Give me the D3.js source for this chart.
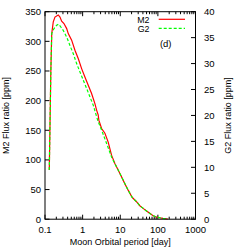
<!DOCTYPE html>
<html><head><meta charset="utf-8">
<script src="https://cdn.jsdelivr.net/npm/d3@7"></script>
<style>body{margin:0;background:#fff}svg{display:block}text{font-family:"Liberation Sans",Arial,sans-serif;fill:#000}</style>
</head><body><svg id="c" width="249" height="249"></svg>
<script>
const m2Period=[0.130,0.136,0.143,0.151,0.166,0.184,0.225,0.250,0.277,0.319,0.377,0.415,0.511,0.625,0.764,0.940,1.15,1.41,1.73,2.12,2.35,2.59,2.70,3.19,3.91,4.78,5.87,7.19,8.79,10.8,13.2,16.2,20.7,27.0,33.1,40.5,49.9,61.0,74.6,91.8,112,137,183];
const m2Flux=[83,162,250,313,333,341,344.5,341,334,330,321.5,313,302,285,271,254,240,226,212,195,184,176,167,153,145,130,108,94,83,71.5,60,49,37,29.5,22.7,18.3,13.8,9.9,5.9,3.7,2.5,1.5,0.3];
const g2Period=[0.130,0.136,0.143,0.151,0.172,0.204,0.231,0.261,0.305,0.377,0.460,0.564,0.693,0.847,1.04,1.28,1.56,1.91,2.35,2.59,3.19,4.34,5.87,7.19,8.79,10.8,13.2,16.2,20.7,27.0,33.1,40.5,49.9,61.0,74.6,91.8,112,137,183];
const g2Flux=[9.5,18.5,28.6,35.8,36.7,37.4,37.6,37.1,36.4,35.1,33.5,31.9,30.0,28.4,26.8,25.2,23.6,22.0,19.8,18.8,17.2,14.6,12.0,10.7,9.5,8.2,6.9,5.6,4.2,3.4,2.6,2.1,1.6,1.1,0.7,0.4,0.3,0.17,0.03];
const xTicks=[0.1,1,10,100,1000];
const yTicks=[0,50,100,150,200,250,300,350];
const y2Ticks=[0,5,10,15,20,25,30,35,40];
const seriesNames=["M2","G2"];

const svg=d3.select("#c");
const L=45,R=195.5,T=11.7,B=219.2;
const x=d3.scaleLog().domain([0.1,1000]).range([L,R]);
const y=d3.scaleLinear().domain([0,350]).range([B,T]);
const y2=d3.scaleLinear().domain([0,40]).range([B,T]);
const fs="9.5px";

const minor=[];
for(let d=0.1;d<1000;d*=10){for(let k=2;k<=9;k++)minor.push(d*k);}
const g=svg.append("g").attr("stroke","#000").attr("stroke-width",1);
minor.forEach(v=>{
  g.append("line").attr("x1",x(v)).attr("x2",x(v)).attr("y1",B).attr("y2",B-2.5);
  g.append("line").attr("x1",x(v)).attr("x2",x(v)).attr("y1",T).attr("y2",T+2.5);
});
xTicks.forEach(v=>{
  g.append("line").attr("x1",x(v)).attr("x2",x(v)).attr("y1",B).attr("y2",B-4.5);
  g.append("line").attr("x1",x(v)).attr("x2",x(v)).attr("y1",T).attr("y2",T+4.5);
  svg.append("text").attr("x",x(v)).attr("y",B+13.5).attr("text-anchor","middle").style("font-size",fs).text(v);
});
yTicks.forEach(v=>{
  g.append("line").attr("x1",L).attr("x2",L+4.5).attr("y1",y(v)).attr("y2",y(v));
  svg.append("text").attr("x",L-4).attr("y",y(v)+3.4).attr("text-anchor","end").style("font-size",fs).text(v);
});
y2Ticks.forEach(v=>{
  g.append("line").attr("x1",R).attr("x2",R-4.5).attr("y1",y2(v)).attr("y2",y2(v));
  svg.append("text").attr("x",R+8.5).attr("y",y2(v)+3.4).attr("text-anchor","start").style("font-size",fs).text(v);
});

const line1=d3.line().x(d=>x(d[0])).y(d=>y(d[1]));
const line2=d3.line().x(d=>x(d[0])).y(d=>y2(d[1]));
svg.append("path").datum(m2Period.map((p,i)=>[p,m2Flux[i]])).attr("d",line1)
  .attr("fill","none").attr("stroke","#ff0000").attr("stroke-width",1.2);
svg.append("path").datum(g2Period.map((p,i)=>[p,g2Flux[i]])).attr("d",line2)
  .attr("fill","none").attr("stroke","#00ff00").attr("stroke-width",1.2).attr("stroke-dasharray","3,2");

svg.append("rect").attr("x",L).attr("y",T).attr("width",R-L).attr("height",B-T)
  .attr("fill","none").attr("stroke","#000").attr("stroke-width",1);

const leg=[{c:"#ff0000",d:null,y:19.3},{c:"#00ff00",d:"3,2",y:28.3}];
leg.forEach((l,i)=>{
  svg.append("text").attr("x",149.5).attr("y",l.y+3.2).attr("text-anchor","end").style("font-size","8.8px").text(seriesNames[i]);
  const ln=svg.append("line").attr("x1",158.7).attr("x2",185).attr("y1",l.y).attr("y2",l.y)
    .attr("stroke",l.c).attr("stroke-width",1.2);
  if(l.d)ln.attr("stroke-dasharray",l.d);
});
svg.append("text").attr("x",165.7).attr("y",46.5).attr("text-anchor","middle").style("font-size",fs).text("(d)");

svg.append("text").attr("x",(L+R)/2).attr("y",245).attr("text-anchor","middle").style("font-size","9px").text("Moon Orbital period [day]");
svg.append("text").attr("transform",`translate(9,${(T+B)/2}) rotate(-90)`).attr("text-anchor","middle").style("font-size","9px").text("M2 Flux ratio [ppm]");
svg.append("text").attr("transform",`translate(231,${(T+B)/2}) rotate(-90)`).attr("text-anchor","middle").style("font-size","9px").text("G2 Flux ratio [ppm]");
</script></body></html>
